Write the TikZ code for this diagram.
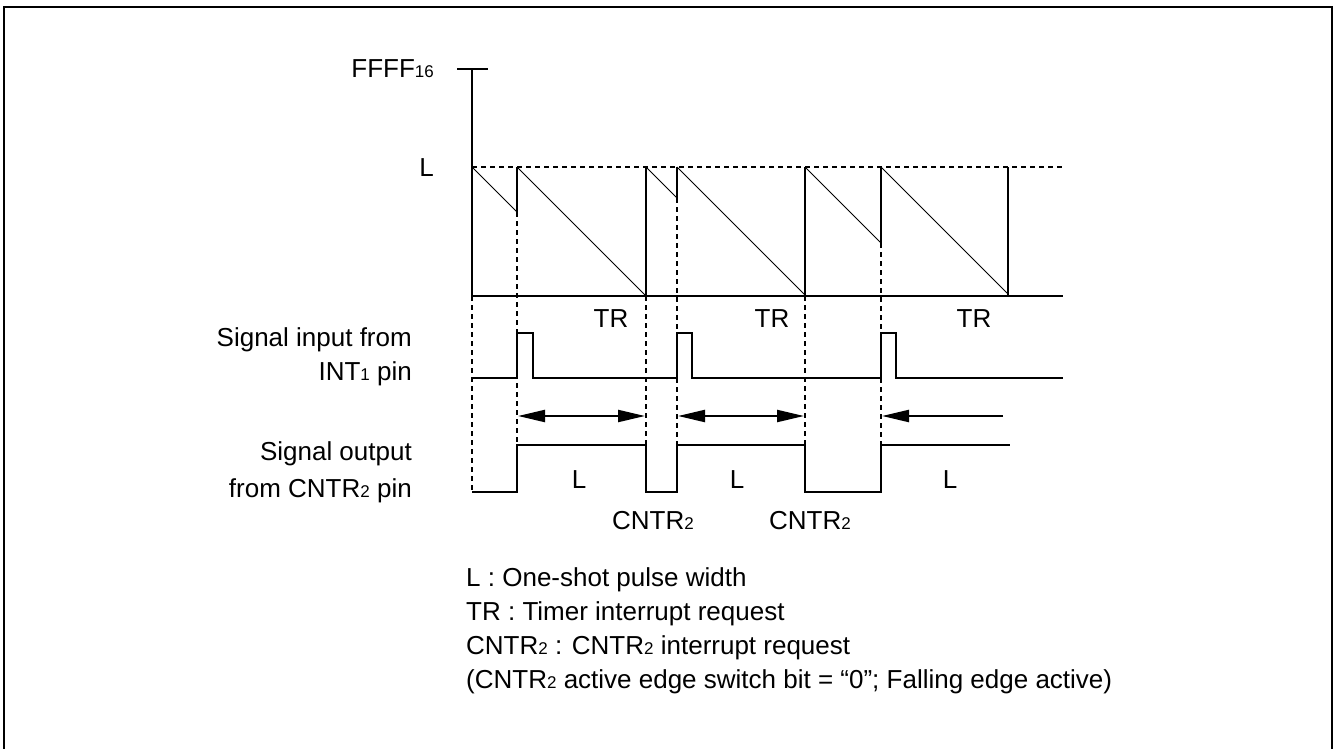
\documentclass[tikz,border=0pt]{standalone}
\usepackage{fontspec}
\setmainfont{Liberation Sans}
\usetikzlibrary{arrows.meta}
\newcommand\sbs[1]{{\fontsize{17}{17}\selectfont #1}}
\begin{document}
\begin{tikzpicture}[x=1pt,y=-1pt,
  thickline/.style={line width=2.2pt},
  thinline/.style={line width=1pt},
  guide/.style={line width=2pt,dash pattern=on 5pt off 4pt},
  lbl/.style={inner sep=0pt,font=\fontsize{26}{31}\selectfont},
  tip/.style={line width=2.2pt,-{Triangle[length=27pt,width=12pt]}},
  dtip/.style={line width=2.2pt,{Triangle[length=27pt,width=12pt]}-{Triangle[length=27pt,width=12pt]}}]
\useasboundingbox (0,0) rectangle (1336,749);
\draw[line width=2.2pt] (4,760) -- (4,7) -- (1332,7) -- (1332,760);
% axes
\draw[thickline] (472,296) -- (472,69);
\draw[thickline] (457,69) -- (488,69);
\draw[thickline] (472,296) -- (1063,296);
\draw[guide] (472,167) -- (1063,167);
% sawtooth
\draw[thinline] (472,167) -- (517,212);
\draw[thickline] (517,212) -- (517,167);
\draw[thinline] (517,167) -- (646,296);
\draw[thickline] (646,296) -- (646,167);
\draw[thinline] (646,167) -- (677,198);
\draw[thickline] (677,198) -- (677,167);
\draw[thinline] (677,167) -- (805,295);
\draw[thickline] (805,296) -- (805,167);
\draw[thinline] (805,167) -- (881,243);
\draw[thickline] (881,243) -- (881,167);
\draw[thinline] (881,167) -- (1008,294);
\draw[thickline] (1008,296) -- (1008,167);
% guides
\draw[guide] (472,296) -- (472,492);
\draw[guide] (517,212) -- (517,445);
\draw[guide] (646,296) -- (646,445);
\draw[guide] (677,198) -- (677,445);
\draw[guide] (805,296) -- (805,445);
\draw[guide] (881,243) -- (881,445);
% INT1 input
\draw[thickline] (472,378) -- (517,378) -- (517,333) -- (533,333) -- (533,378) -- (677,378) -- (677,333) -- (692,333) -- (692,378) -- (881,378) -- (881,333) -- (896,333) -- (896,378) -- (1063,378);
% arrows
\coordinate (a1) at (518,416); \coordinate (a2) at (645,416);
\coordinate (a3) at (678,416); \coordinate (a4) at (804,416);
\coordinate (a5) at (882,416); \coordinate (a6) at (1003,416);
\draw[dtip] (a1) -- (a2);
\draw[dtip] (a3) -- (a4);
\draw[tip] (a6) -- (a5);
% CNTR2 output
\draw[thickline] (472,492) -- (517,492) -- (517,445) -- (646,445) -- (646,492) -- (677,492) -- (677,445) -- (805,445) -- (805,492) -- (881,492) -- (881,445) -- (1010,445);
% labels
\node[lbl,anchor=base east] (ffff) at (434,78) {FFFF\sbs{16}};
\node[lbl,anchor=base east] (lv) at (434,176) {L};
\node[lbl,anchor=base] (tr1) at (611,327) {TR};
\node[lbl,anchor=base] (tr2) at (772,327) {TR};
\node[lbl,anchor=base] (tr3) at (974,327) {TR};
\node[lbl,anchor=base] (l1) at (579,488) {L};
\node[lbl,anchor=base] (l2) at (737,488) {L};
\node[lbl,anchor=base] (l3) at (950,488) {L};
\node[lbl,anchor=base] (c1) at (653,529) {CNTR\sbs{2}};
\node[lbl,anchor=base] (c2) at (810,529) {CNTR\sbs{2}};
\node[lbl,anchor=base east] (s1) at (412,346) {Signal input from};
\node[lbl,anchor=base east] (s2) at (412,380) {INT\sbs{1} pin};
\node[lbl,anchor=base east] (s3) at (412,460) {Signal output};
\node[lbl,anchor=base east] (s4) at (412,497) {from CNTR\sbs{2} pin};
\node[lbl,anchor=base west] (g1) at (466,586) {L : One-shot pulse width};
\node[lbl,anchor=base west] (g2) at (466,620) {TR : Timer interrupt request};
\node[lbl,anchor=base west] (g3) at (466,654) {CNTR\sbs{2} : CNTR\sbs{2} interrupt request};
\node[lbl,anchor=base west] (g4) at (466,688) {(CNTR\sbs{2} active edge switch bit = “0”; Falling edge active)};
\end{tikzpicture}
\end{document}
